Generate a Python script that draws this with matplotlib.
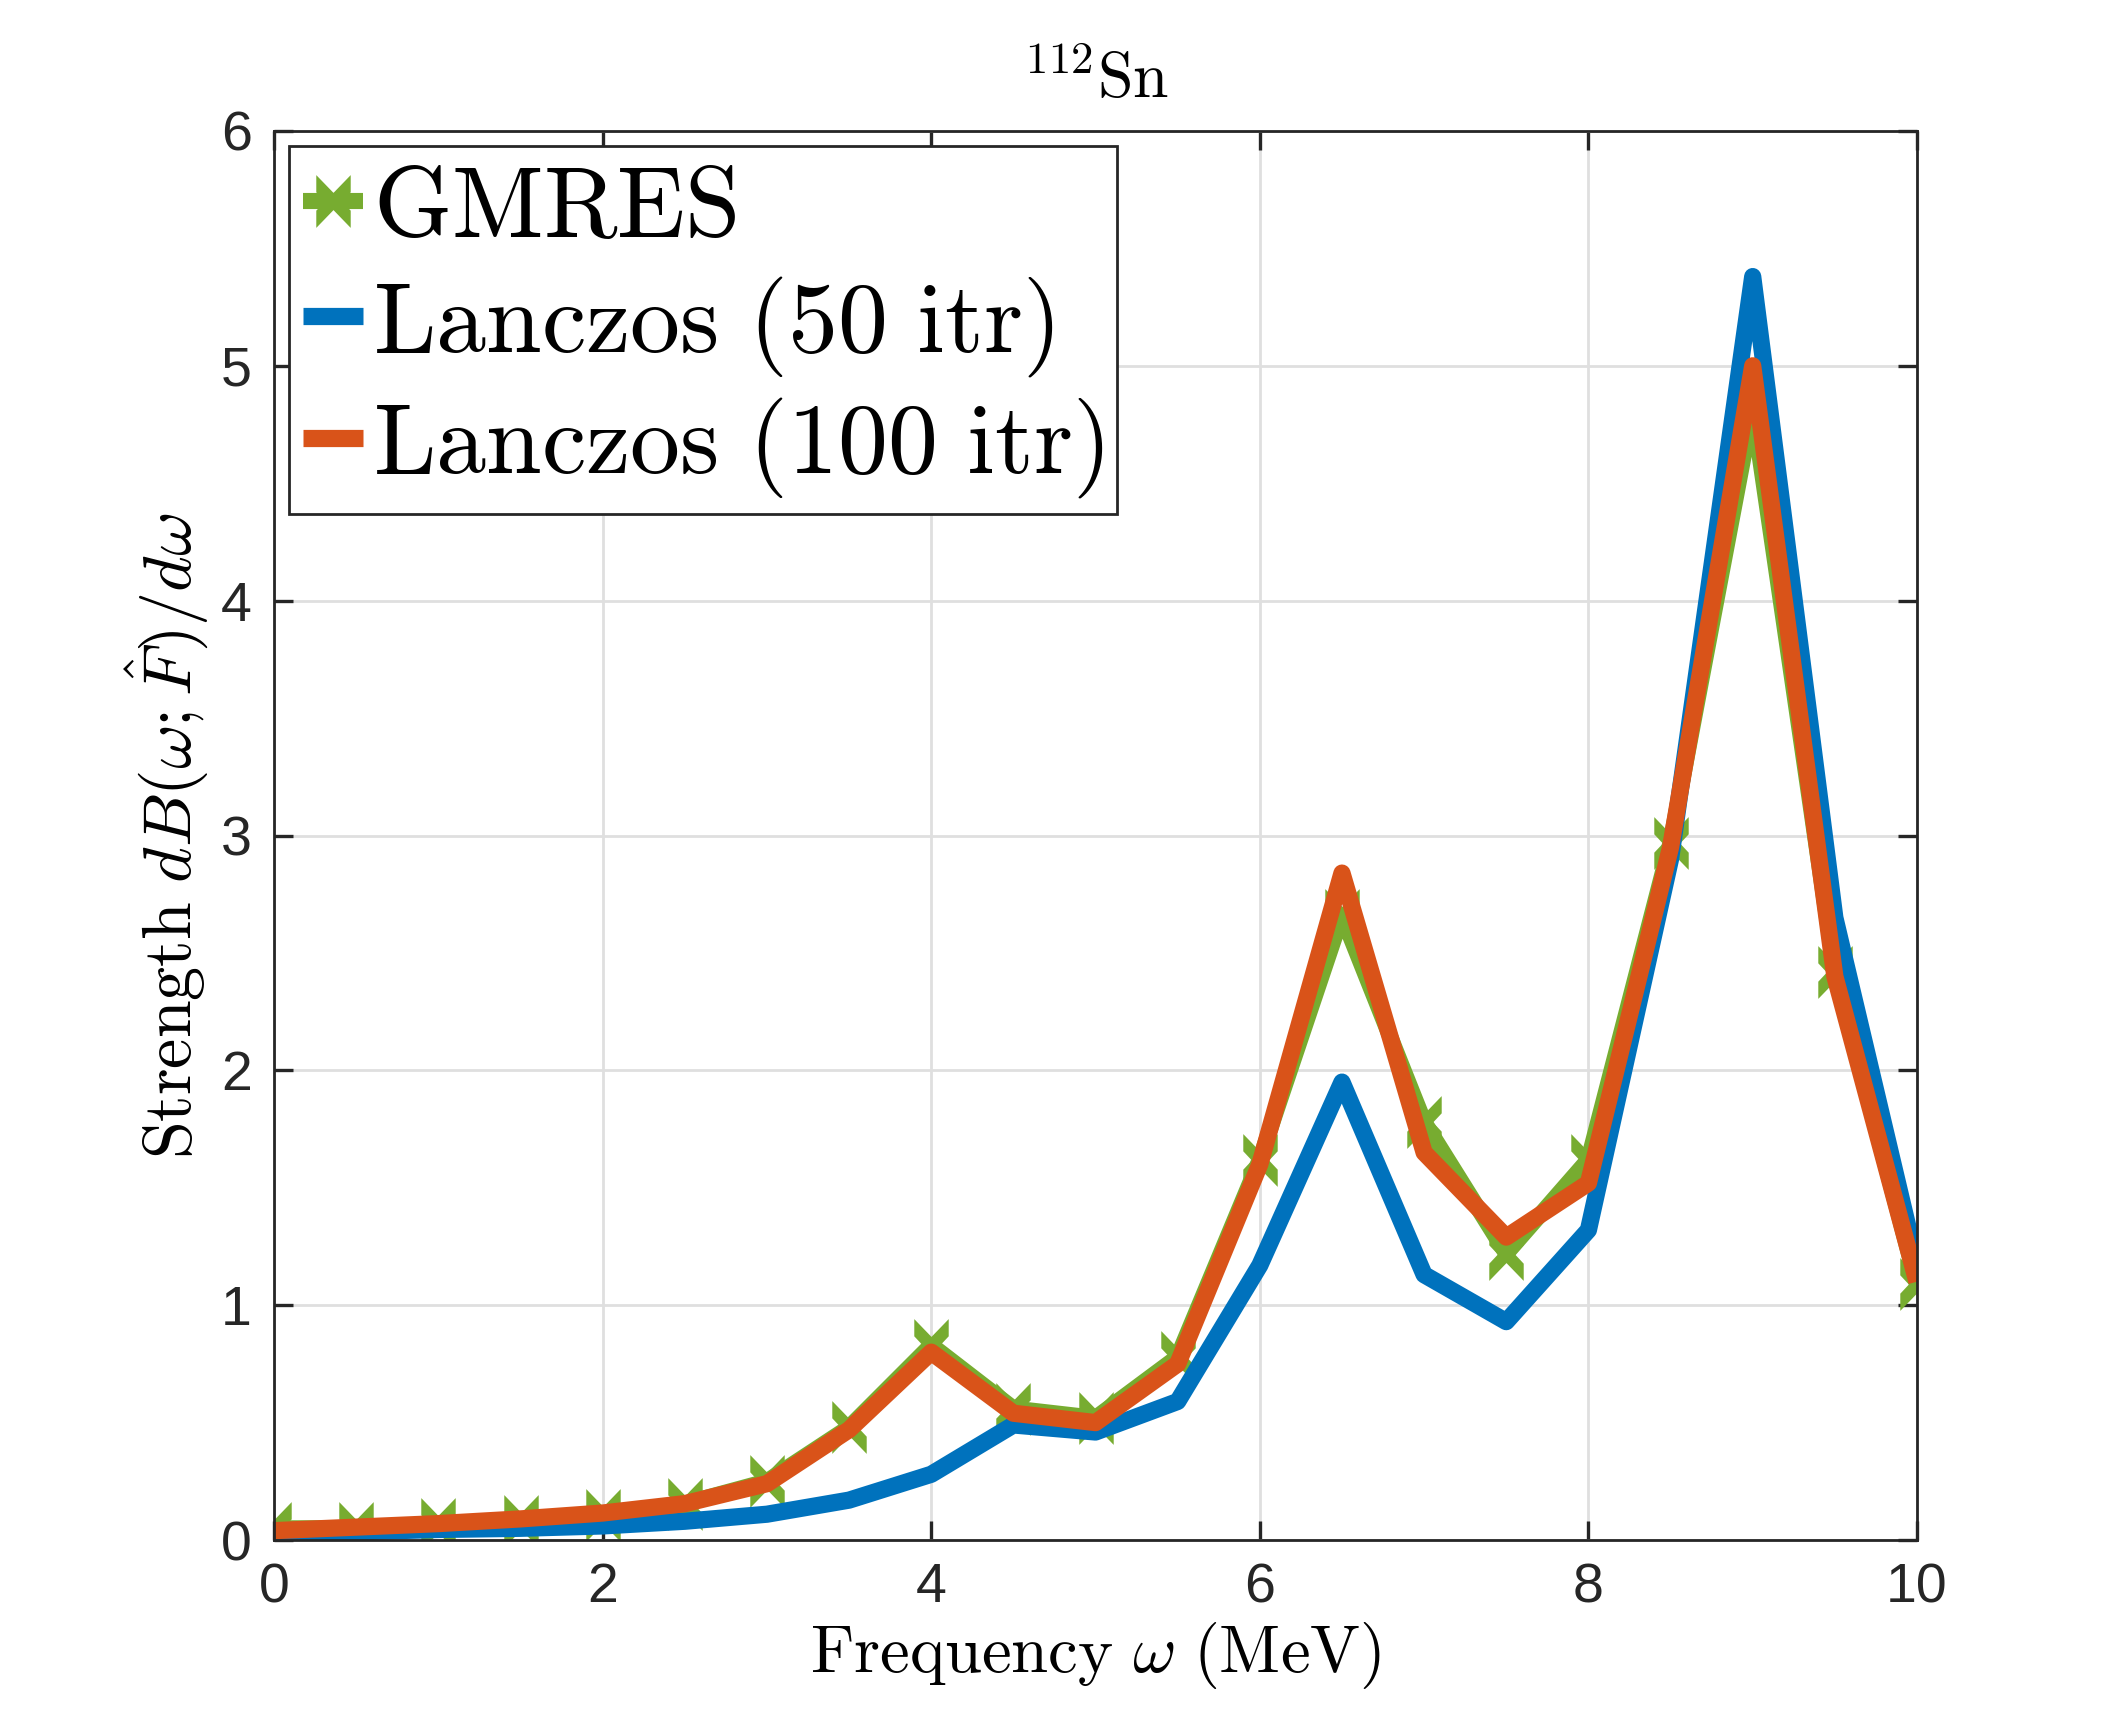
import numpy as np
import matplotlib
matplotlib.use('Agg')
import matplotlib.pyplot as plt
from matplotlib.path import Path

# frequency grid (MeV)
freq = [0, 0.5, 1, 1.5, 2, 2.5, 3, 3.5, 4, 4.5, 5, 5.5, 6, 6.5, 7, 7.5, 8, 8.5, 9, 9.5, 10]

# strength values
gmres = [0.05, 0.05, 0.07, 0.08, 0.105, 0.155, 0.25, 0.48, 0.83, 0.56, 0.52, 0.78,
         1.62, 2.66, 1.78, 1.22, 1.62, 2.97, 4.82, 2.42, 1.09]
lanczos50 = [0.03, 0.035, 0.045, 0.05, 0.06, 0.08, 0.11, 0.17, 0.28, 0.49, 0.46, 0.59,
             1.17, 1.95, 1.13, 0.93, 1.32, 2.9, 5.38, 2.65, 1.17]
lanczos100 = [0.04, 0.055, 0.07, 0.09, 0.115, 0.155, 0.24, 0.47, 0.8, 0.54, 0.5, 0.75,
              1.6, 2.84, 1.65, 1.29, 1.52, 2.95, 5.0, 2.4, 1.1]

plt.rcParams['mathtext.fontset'] = 'cm'

# thick "x" with flat vertical ends, like the MATLAB asterisk at big line width
w, h, c, n = 15, 23, 15, 7.5
xverts = [(0, n), (w, h), (w, h - c), (n, 0), (w, -(h - c)), (w, -h), (0, -n),
          (-w, -h), (-w, -(h - c)), (-n, 0), (-w, h - c), (-w, h), (0, n)]
xmark = Path(xverts, closed=True)

fig = plt.figure(figsize=(10.59, 8.65), dpi=200)
ax = fig.add_axes([0.1294, 0.1098, 0.7757, 0.8145])

ax.plot(freq, gmres, color='#77AC30', lw=5.8, marker=xmark, ms=19, mew=0,
        mfc='#77AC30', label=r'$\mathrm{GMRES}$', solid_joinstyle='round',
        solid_capstyle='butt')
ax.plot(freq, lanczos50, color='#0072BD', lw=6.2, label=r'$\mathrm{Lanczos\ (50\ itr)}$',
        solid_joinstyle='round', solid_capstyle='butt')
ax.plot(freq, lanczos100, color='#D95319', lw=6.2, label=r'$\mathrm{Lanczos\ (100\ itr)}$',
        solid_joinstyle='round', solid_capstyle='butt')

ax.set_xlim(0, 10)
ax.set_ylim(0, 6)
ax.set_xticks([0, 2, 4, 6, 8, 10])
ax.set_yticks([0, 1, 2, 3, 4, 5, 6])
ax.grid(True, color='#dfdfdf', lw=1)
ax.set_axisbelow(True)
ax.tick_params(direction='in', length=7, width=1.2, top=True, right=True,
               colors='#262626', labelsize=20, pad=8)
for lab in ax.get_xticklabels() + ax.get_yticklabels():
    lab.set_family('Liberation Sans')
for s in ax.spines.values():
    s.set_color('#262626')
    s.set_linewidth(1)

ax.set_xlabel(r'$\mathrm{Frequency}\ \omega\ \mathrm{(MeV)}$', fontsize=24, labelpad=2)
ax.set_ylabel(r'$\mathrm{Strength}\ dB(\omega;\hat{F})/d\omega$', fontsize=24.5, labelpad=4)
ax.set_title(r'$^{112}\mathrm{Sn}$', fontsize=23, pad=12)

leg = ax.legend(loc='upper left', fontsize=36, handlelength=0.6, handletextpad=0.1,
                labelspacing=0.17, borderpad=0.14, borderaxespad=0.15,
                fancybox=False, framealpha=1, edgecolor='#262626')
leg.get_frame().set_linewidth(1)

fig.savefig('out.png', dpi=200)
